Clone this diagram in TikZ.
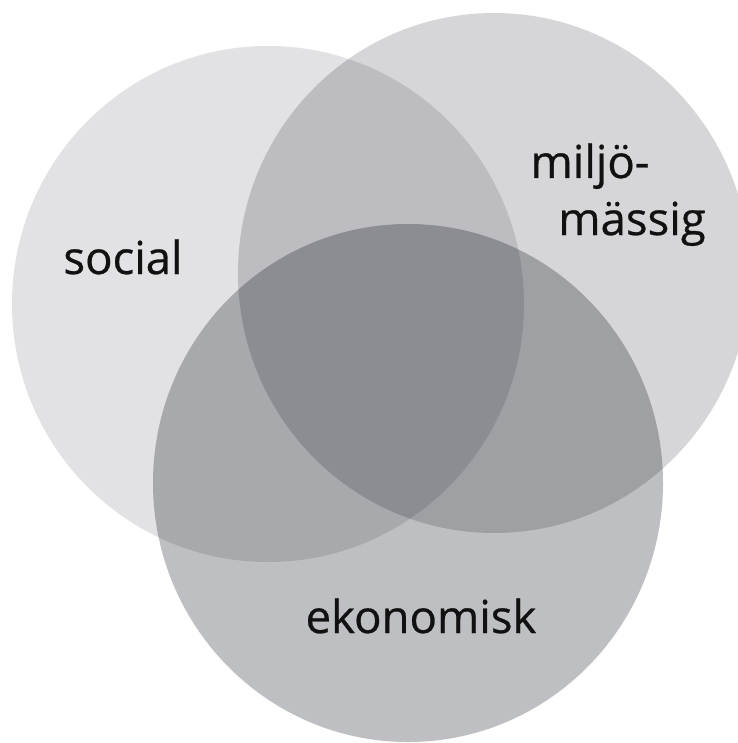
\documentclass[tikz,border=0pt]{standalone}
\usepackage{fontspec}
\setmainfont{Open Sans}
\newfontfamily\lblfont[FakeBold=0.6]{Open Sans}
\definecolor{socialgray}{RGB}{226,226,228}
\definecolor{miljogray}{RGB}{214,214,216}
\definecolor{ekogray}{RGB}{190,191,194}
\definecolor{labelink}{RGB}{17,17,17}
\begin{document}
\begin{tikzpicture}[x=1pt,y=-1pt,
  lbl/.style={anchor=base, inner sep=0pt, text=labelink, font=\lblfont\fontsize{45.5}{54}\selectfont}]
\useasboundingbox (0,0) rectangle (737,743);
\fill[white] (0,0) rectangle (737,743);
\begin{scope}[blend group=multiply]
\fill[socialgray] (268,304) ellipse [x radius=256, y radius=258];
\fill[miljogray] (494,273) ellipse [x radius=256, y radius=260];
\fill[ekogray] (408,483) ellipse [x radius=255, y radius=259];
\end{scope}
\node[lbl] (social) at (123,274) {social};
\node[lbl] (miljo) at (590,178) {miljö-};
\node[lbl] (massig) at (632,235) {mässig};
\node[lbl] (eko) at (421,633) {ekonomisk};
\end{tikzpicture}
\end{document}
